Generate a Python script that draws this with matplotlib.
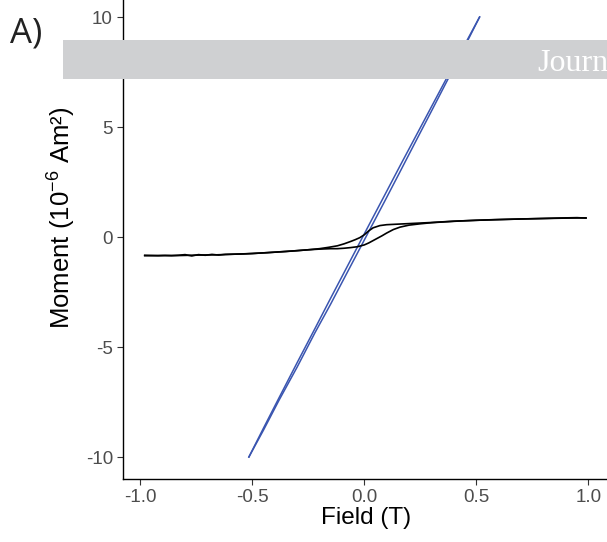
import matplotlib
matplotlib.use("Agg")
import matplotlib.pyplot as plt
from matplotlib.patches import Rectangle

plt.rcParams["font.family"] = ["Liberation Sans", "DejaVu Sans"]
plt.rcParams["axes.unicode_minus"] = False
plt.rcParams["mathtext.fontset"] = "custom"
plt.rcParams["mathtext.rm"] = "Liberation Sans"
plt.rcParams["mathtext.it"] = "Liberation Sans"

# black sample: ascending branch (lower) and descending branch (upper)
black_up_field = [-0.98, -0.95, -0.92, -0.89, -0.86, -0.83, -0.80, -0.77, -0.74, -0.71,
                  -0.68, -0.65, -0.62, -0.58, -0.54, -0.50, -0.45, -0.40, -0.35, -0.30,
                  -0.25, -0.20, -0.15, -0.12, -0.09, -0.06, -0.03, 0.00, 0.02, 0.04,
                  0.06, 0.08, 0.10, 0.13, 0.16, 0.20, 0.25, 0.30, 0.36, 0.43, 0.50,
                  0.58, 0.66, 0.74, 0.82, 0.90, 0.95, 0.99]
black_up_moment = [-0.83, -0.84, -0.85, -0.84, -0.85, -0.83, -0.80, -0.86, -0.80, -0.83,
                   -0.79, -0.82, -0.79, -0.78, -0.77, -0.75, -0.72, -0.69, -0.66, -0.62,
                   -0.58, -0.55, -0.53, -0.53, -0.51, -0.48, -0.44, -0.36, -0.27, -0.16,
                   -0.05, 0.06, 0.18, 0.34, 0.45, 0.54, 0.60, 0.65, 0.69, 0.73, 0.76,
                   0.79, 0.81, 0.83, 0.85, 0.87, 0.88, 0.86]
black_down_field = [0.99, 0.90, 0.80, 0.70, 0.60, 0.50, 0.40, 0.30, 0.22, 0.16,
                    0.10, 0.07, 0.04, 0.02, 0.00, -0.02, -0.04, -0.06, -0.09, -0.12,
                    -0.16, -0.20, -0.25, -0.30, -0.36, -0.43, -0.50, -0.58, -0.66,
                    -0.74, -0.82, -0.90, -0.98]
black_down_moment = [0.87, 0.86, 0.84, 0.82, 0.79, 0.76, 0.72, 0.66, 0.62, 0.59,
                     0.56, 0.52, 0.42, 0.28, 0.10, -0.03, -0.12, -0.20, -0.31, -0.40,
                     -0.47, -0.53, -0.58, -0.62, -0.66, -0.71, -0.75, -0.78, -0.81,
                     -0.82, -0.84, -0.84, -0.85]

# blue sample
blue_up_field = [-0.515, -0.45, -0.38, -0.30, -0.22, -0.15, -0.08, -0.02,
                 0.03, 0.09, 0.16, 0.23, 0.30, 0.37, 0.44, 0.515]
blue_up_moment = [-10.0, -8.78, -7.41, -5.92, -4.35, -3.05, -1.69, -0.53,
                  0.44, 1.60, 2.97, 4.35, 5.72, 7.10, 8.49, 10.0]
blue_down_field = [0.515, 0.44, 0.37, 0.30, 0.23, 0.16, 0.09, 0.03,
                   -0.02, -0.08, -0.15, -0.22, -0.30, -0.38, -0.45, -0.515]
blue_down_moment = [10.0, 8.58, 7.26, 5.92, 4.58, 3.24, 1.88, 0.72,
                    -0.25, -1.42, -2.78, -4.16, -5.72, -7.30, -8.69, -10.0]

x_ticks = [-1.0, -0.5, 0.0, 0.5, 1.0]
x_labels = ["-1.0", "-0.5", "0.0", "0.5", "1.0"]
y_ticks = [-10, -5, 0, 5, 10]
y_labels = ["-10", "-5", "0", "5", "10"]

fig = plt.figure(figsize=(6.07, 5.42), dpi=100)
ax = fig.add_axes([0.2021, 0.1162, 0.8033, 0.893])

blue = "#3a55b0"
ax.plot(blue_up_field, blue_up_moment, color=blue, lw=1.1)
ax.plot(blue_down_field, blue_down_moment, color=blue, lw=1.1)
ax.plot(black_up_field, black_up_moment, color="black", lw=1.2)
ax.plot(black_down_field, black_down_moment, color="black", lw=1.2)

ax.set_xlim(-1.0785, 1.0985)
ax.set_ylim(-11, 11)
ax.set_xticks(x_ticks, x_labels)
ax.set_yticks(y_ticks, y_labels)
ax.tick_params(labelsize=13.5, labelcolor="#4d4d4d", color="#333333", length=4, width=0.8, pad=3)
for s in ["top", "right"]:
    ax.spines[s].set_visible(False)
for s in ["left", "bottom"]:
    ax.spines[s].set_linewidth(1.0)
ax.set_xlabel("Field (T)", fontsize=17.5, labelpad=1)
fig.text(62 / 607, 1 - 218 / 542, r"Moment (10$^{-6}$ Am²)", rotation=90,
         fontsize=18.5, ha="center", va="center")

# journal banner overlay
fig.add_artist(Rectangle((63 / 607, 1 - 79 / 542), 1.0, 39 / 542, transform=fig.transFigure,
                         facecolor="#cfd0d2", edgecolor="none", zorder=10))
fig.text(537 / 607, 1 - 71 / 542, "Journ", color="white", fontsize=23,
         family="Liberation Serif", va="baseline", zorder=11)
fig.text(10 / 607, 1 - 42 / 542, "A)", fontsize=25, family="Open Sans", va="baseline", color="#222222")

fig.savefig("out.png", dpi=100)
